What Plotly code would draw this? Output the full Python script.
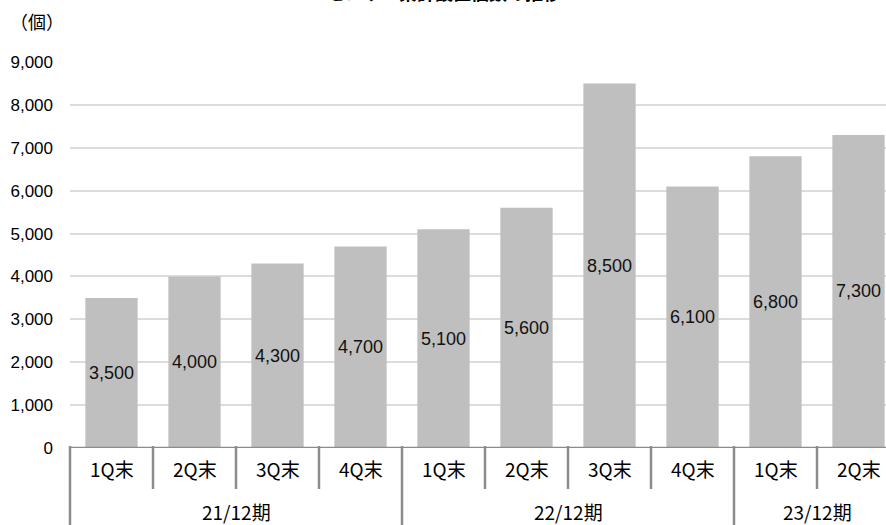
import plotly.graph_objects as go

# Quarter-end counts grouped by fiscal period
periods = ["21/12期", "22/12期", "23/12期"]
period_sizes = [4, 4, 2]
quarters = ["1Q末", "2Q末", "3Q末", "4Q末",
            "1Q末", "2Q末", "3Q末", "4Q末",
            "1Q末", "2Q末"]
values = [3500, 4000, 4300, 4700, 5100, 5600, 8500, 6100, 6800, 7300]
y_ticks = [0, 1000, 2000, 3000, 4000, 5000, 6000, 7000, 8000, 9000]
unit_label = "（個）"
chart_title = "センサー累計設置個数の推移"

W, H = 886, 525
ML, MR, MT, MB = 70, 0, 62, 77
plot_w = W - ML - MR
plot_h = H - MT - MB

n = len(values)
x_keys = list(range(n))
# category slots are ~83px wide; the last slot runs past the right edge
slot_px = 83.0
x_min = -0.5
x_max = x_min + plot_w / slot_px

AXIS_GRAY = "#8c8c8c"
CJK = "Noto Sans CJK JP, Noto Sans, sans-serif"
NUM = "Liberation Sans, Arial, sans-serif"


def xp(x):
    return (x - x_min) / (x_max - x_min)


def yp(px):
    # pixel row -> paper coordinate
    return (MT + plot_h - px) / plot_h


fig = go.Figure()
fig.add_trace(go.Bar(
    x=x_keys,
    y=values,
    marker=dict(color="#bfbfbf", line=dict(width=0)),
    text=[f"{v:,}" for v in values],
    textposition="inside",
    insidetextanchor="middle",
    textangle=0,
    textfont=dict(family=NUM, size=18, color="#111111"),
    cliponaxis=False,
    hoverinfo="skip",
))

shapes = []
# baseline
shapes.append(dict(type="line", xref="paper", yref="y", x0=0, x1=1, y0=0, y1=0,
                   line=dict(color=AXIS_GRAY, width=2.5)))
# dividers between quarters / periods
group_edges = [0]
for s in period_sizes:
    group_edges.append(group_edges[-1] + s)
for b in range(n + 1):
    xb = b - 0.5
    if xb > x_max:
        continue
    bottom = yp(H + 2) if b in group_edges else yp(489)
    shapes.append(dict(type="line", xref="paper", yref="paper",
                       x0=xp(xb), x1=xp(xb), y0=yp(446), y1=bottom,
                       line=dict(color=AXIS_GRAY, width=2.5)))

annotations = []
for i, q in enumerate(quarters):
    annotations.append(dict(x=xp(i), y=yp(468), xref="paper", yref="paper",
                            text=q, showarrow=False,
                            font=dict(family=CJK, size=19, color="#000000"),
                            xanchor="center", yanchor="middle"))
for g, p in enumerate(periods):
    center = (group_edges[g] + group_edges[g + 1] - 1) / 2
    annotations.append(dict(x=xp(center), y=yp(512), xref="paper", yref="paper",
                            text=p, showarrow=False,
                            font=dict(family=CJK, size=19, color="#000000"),
                            xanchor="center", yanchor="middle"))
annotations.append(dict(x=(8 - ML) / plot_w, y=yp(21), xref="paper", yref="paper",
                        text=unit_label, showarrow=False,
                        font=dict(family=CJK, size=18, color="#000000"),
                        xanchor="left", yanchor="middle"))
annotations.append(dict(x=(444 - ML) / plot_w, y=yp(-8.5), xref="paper", yref="paper",
                        text=f"<b>{chart_title}</b>", showarrow=False,
                        font=dict(family=CJK, size=18, color="#000000"),
                        xanchor="center", yanchor="middle"))

fig.update_layout(
    width=W, height=H,
    margin=dict(l=ML, r=MR, t=MT, b=MB, pad=0),
    paper_bgcolor="#ffffff", plot_bgcolor="#ffffff",
    showlegend=False,
    bargap=0.37,
    shapes=shapes,
    annotations=annotations,
    xaxis=dict(range=[x_min, x_max], showticklabels=False, showgrid=False,
               zeroline=False, showline=False, ticks="", fixedrange=True),
    yaxis=dict(range=[0, 9000], tickvals=y_ticks,
               ticktext=[f"{t:,}" for t in y_ticks],
               showgrid=True, gridcolor="#dcdcdc", gridwidth=1.5,
               zeroline=False, showline=False, ticks="",
               ticklabelstandoff=16,
               tickfont=dict(family=NUM, size=17, color="#000000"),
               fixedrange=True),
)

fig.write_html("out.html", config={"displayModeBar": False})
